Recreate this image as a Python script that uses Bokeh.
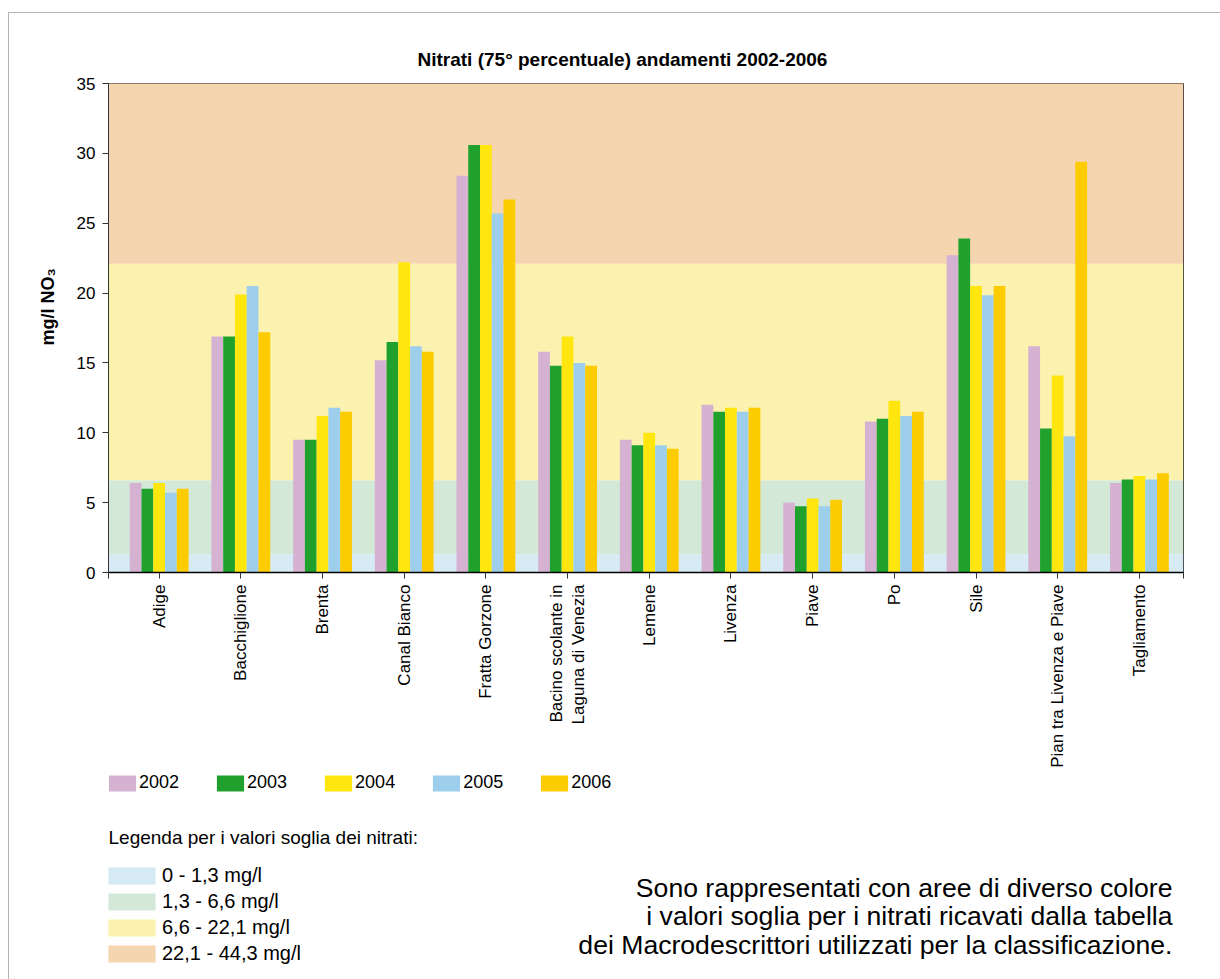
import math

from bokeh.embed import file_html
from bokeh.layouts import column
from bokeh.models import (ColumnDataSource, FixedTicker, Label, Legend,
                          LegendItem, Range1d, Title)
from bokeh.plotting import figure
from bokeh.resources import INLINE
from bokeh.transform import dodge

# ---- data -----------------------------------------------------------------
rivers = [
    "Adige", "Bacchiglione", "Brenta", "Canal Bianco", "Fratta Gorzone",
    "Bacino scolante in\nLaguna di Venezia", "Lemene", "Livenza", "Piave",
    "Po", "Sile", "Pian tra Livenza e Piave", "Tagliamento",
]
years = ["2002", "2003", "2004", "2005", "2006"]
n2002 = [6.4, 16.9, 9.5, 15.2, 28.4, 15.8, 9.5, 12.0, 5.0, 10.8, 22.7, 16.2, 6.4]
n2003 = [6.0, 16.9, 9.5, 16.5, 30.6, 14.8, 9.1, 11.5, 4.75, 11.0, 23.9, 10.3, 6.65]
n2004 = [6.4, 19.9, 11.2, 22.2, 30.6, 16.9, 10.0, 11.8, 5.3, 12.3, 20.5, 14.1, 6.9]
n2005 = [5.7, 20.5, 11.8, 16.2, 25.7, 15.0, 9.1, 11.5, 4.75, 11.2, 19.85, 9.75, 6.65]
n2006 = [6.0, 17.2, 11.5, 15.8, 26.7, 14.8, 8.85, 11.8, 5.2, 11.5, 20.5, 29.4, 7.1]
year_colors = ["#d5b2d2", "#20a12e", "#ffe60f", "#9dcfec", "#fccb00"]

# threshold classes (mg/l)
band_low = [0, 1.3, 6.6, 22.1]
band_high = [1.3, 6.6, 22.1, 44.3]
band_labels = ["0 - 1,3 mg/l", "1,3 - 6,6 mg/l", "6,6 - 22,1 mg/l", "22,1 - 44,3 mg/l"]
band_colors = ["#d6ebf3", "#d4e8d7", "#fbf2b0", "#f5d5b0"]

y_ticks = [0, 5, 10, 15, 20, 25, 30, 35]

note_lines = [
    "Sono rappresentati con aree di diverso colore",
    "i valori soglia per i nitrati ricavati dalla tabella",
    "dei Macrodescrittori utilizzati per la classificazione.",
]

FONT = "Liberation Sans"
X_START, X_END = -0.62, 12.54
BAR_W = 0.144
NAN = float("nan")

# ---- chart ----------------------------------------------------------------
p = figure(
    width=1211, height=759, output_backend="svg", toolbar_location=None,
    x_range=Range1d(X_START, X_END), y_range=Range1d(0, 35),
    min_border_left=99, min_border_right=37, min_border_top=70,
    min_border_bottom=200,
)
p.background_fill_color = "white"
p.border_fill_color = "white"
p.outline_line_color = "#222222"
p.xgrid.visible = False
p.ygrid.visible = False

p.title.text = "Nitrati (75° percentuale) andamenti 2002-2006"
p.title.align = "left"
p.title.offset = 309
p.title.standoff = 27
p.title.text_font = FONT
p.title.text_font_size = "19px"
p.title.text_font_style = "bold"
p.title.text_color = "black"

p.add_layout(Title(
    text="mg/l NO₃", align="left", offset=227, standoff=31,
    text_font=FONT, text_font_size="18px", text_font_style="bold",
    text_color="black",
), "left")

# threshold bands behind the bars
for lo, hi, col in zip(band_low, band_high, band_colors):
    p.quad(left=X_START, right=X_END, bottom=lo, top=hi,
           fill_color=col, line_color=None)

# grouped bars
src = ColumnDataSource(dict(
    x=list(range(len(rivers))),
    y2002=n2002, y2003=n2003, y2004=n2004, y2005=n2005, y2006=n2006,
))
for i, (yr, col) in enumerate(zip(years, year_colors)):
    p.vbar(x=dodge("x", (i - 2) * BAR_W, range=p.x_range), top="y" + yr,
           width=BAR_W, source=src, fill_color=col, line_color=None)

# axes
xa = p.xaxis[0]
xa.ticker = FixedTicker(ticks=[X_START] + list(range(len(rivers))) + [X_END])
overrides = {X_START: "", X_END: ""}
overrides.update({i: name for i, name in enumerate(rivers)})
xa.major_label_overrides = overrides
xa.major_label_orientation = math.pi / 2
xa.major_label_standoff = 6
xa.major_label_text_font = FONT
xa.major_label_text_font_size = "17px"
xa.major_label_text_color = "black"
xa.major_tick_out = 6
xa.major_tick_in = 0
xa.minor_tick_line_color = None
xa.axis_line_color = "black"
xa.axis_line_width = 1.5
xa.major_tick_line_color = "#333333"

ya = p.yaxis[0]
ya.ticker = FixedTicker(ticks=y_ticks)
ya.major_label_standoff = 7
ya.major_label_text_font = FONT
ya.major_label_text_font_size = "17px"
ya.major_label_text_color = "black"
ya.major_tick_out = 6
ya.major_tick_in = 0
ya.minor_tick_line_color = None
ya.axis_line_color = "#333333"
ya.major_tick_line_color = "#333333"

# ---- legends and note (panel below the chart; its frame lines up with the
# chart frame, positions are pixels from the frame's bottom-left) -----------
q = figure(
    width=1211, height=207, output_backend="svg", toolbar_location=None,
    x_range=Range1d(0, 1), y_range=Range1d(0, 1),
    x_axis_type=None, y_axis_type=None,
    min_border_left=99, min_border_right=37, min_border_top=0,
    min_border_bottom=0,
)
q.outline_line_color = None
q.background_fill_color = "white"
q.border_fill_color = "white"
q.xgrid.visible = False
q.ygrid.visible = False

# key glyphs only (no visible data)
year_keys = [q.vbar(x=[NAN], top=[NAN], width=0.1, fill_color=c, line_color=None)
             for c in year_colors]
band_keys = [q.quad(left=[NAN], right=[NAN], bottom=[NAN], top=[NAN],
                    fill_color=c, line_color=None)
             for c in band_colors]

# area keys are drawn inset by 10 % of the glyph box on each side
q.add_layout(Legend(
    items=[LegendItem(label=yr, renderers=[r]) for yr, r in zip(years, year_keys)],
    orientation="horizontal", location=(-3, 186),
    padding=0, margin=0, spacing=34,
    glyph_width=34, glyph_height=20, label_standoff=0,
    label_text_font=FONT, label_text_font_size="18px", label_text_color="black",
    border_line_color=None, background_fill_alpha=0,
))

q.add_layout(Label(
    x=0, y=142, x_units="screen", y_units="screen",
    text="Legenda per i valori soglia dei nitrati:",
    text_font=FONT, text_font_size="19px", text_align="left",
    text_baseline="middle", text_color="black",
))

q.add_layout(Legend(
    items=[LegendItem(label=lab, renderers=[r]) for lab, r in zip(band_labels, band_keys)],
    orientation="vertical", location=(-6, 14),
    padding=0, margin=0, spacing=3,
    glyph_width=59, glyph_height=21, label_standoff=1,
    label_text_font=FONT, label_text_font_size="20px", label_text_color="black",
    border_line_color=None, background_fill_alpha=0,
))

for k, line in enumerate(note_lines):
    q.add_layout(Label(
        x=1064, y=92 - 28.5 * k, x_units="screen", y_units="screen",
        text=line, text_font=FONT, text_font_size="26.6px",
        text_align="right", text_baseline="middle", text_color="black",
    ))

page = column(
    p, q, spacing=0, margin=(12, 0, 0, 8),
    styles={"border-left": "1px solid #b4b4b4", "border-top": "1px solid #b4b4b4"},
)

open("out.html", "w").write(file_html(page, INLINE))
